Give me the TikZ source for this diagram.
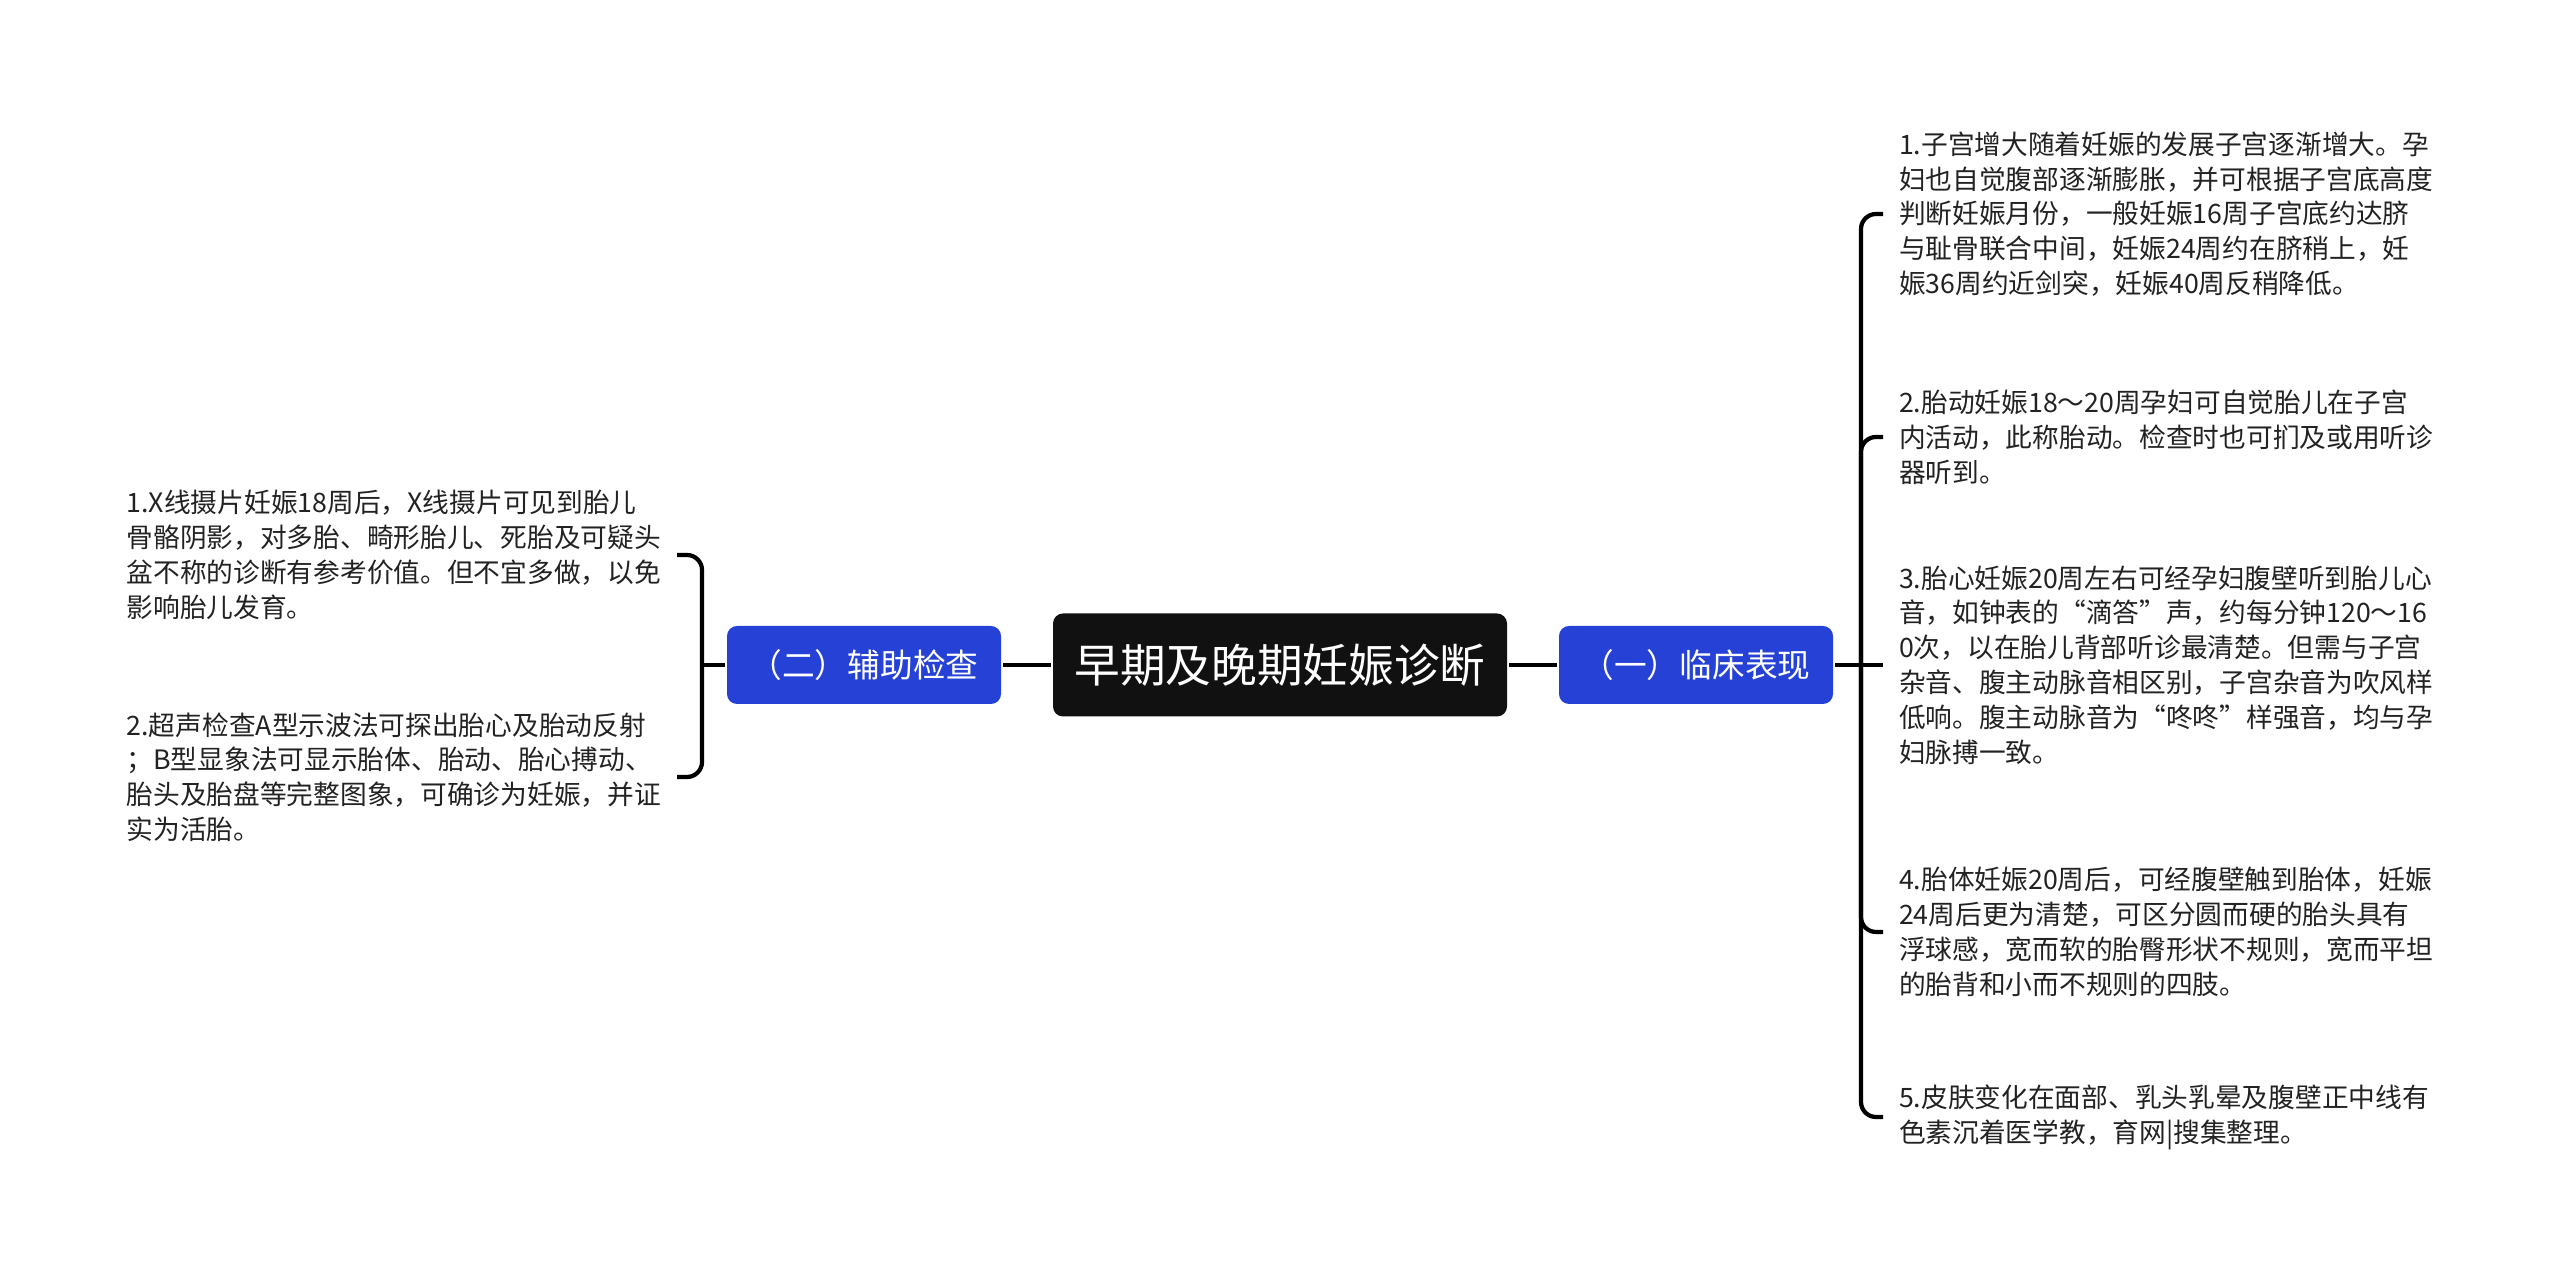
\documentclass[tikz,border=0pt]{standalone}
\usepackage{fontspec}
\setmainfont{Noto Sans CJK SC}
\usepackage{xcolor}
\usepackage{tikz}
\usetikzlibrary{positioning, calc}

\definecolor{topicblue}{RGB}{38,66,214}
\definecolor{rootblack}{RGB}{17,17,17}
\definecolor{leaftext}{RGB}{34,34,34}

\begin{document}
\begin{tikzpicture}[line width=1.2pt]
		
		\tikzstyle{rootbox}=[rectangle, rounded corners=0.1cm, fill=rootblack, text=white, minimum width=4.54cm, minimum height=1.03cm, inner sep=0pt, font=\fontsize{13pt}{15pt}\selectfont]
		\tikzstyle{topicbox}=[rectangle, rounded corners=0.1cm, fill=topicblue, text=white, minimum width=2.74cm, minimum height=0.78cm, inner sep=0pt, font=\fontsize{9.3pt}{11pt}\selectfont]
		\tikzstyle{leafr}=[anchor=west, align=left, inner xsep=0.14cm, inner ysep=0.05cm, text=leaftext, font=\fontsize{7.6pt}{9.9pt}\selectfont]
		\tikzstyle{leafl}=[leafr, anchor=east]
		\tikzstyle{brace}=[rounded corners=0.15cm]
		
		\useasboundingbox (0,0) rectangle (25.6,-12.8);
		
		
		\node (root) at (12.8,-6.65) [rootbox] {早期及晚期妊娠诊断};
		\node (aux) at (8.64,-6.65) [topicbox] {（二）辅助检查};
		\node (clin) at (16.96,-6.65) [topicbox] {（一）临床表现};
		
		\coordinate (lj) at (7.02,-6.65);
		\coordinate (rj) at (18.61,-6.65);
		
		%% right side
		\node (ri1) at (18.83,-2.14) [leafr] {1.子宫增大随着妊娠的发展子宫逐渐增大。孕\\妇也自觉腹部逐渐膨胀，并可根据子宫底高度\\判断妊娠月份，一般妊娠16周子宫底约达脐\\与耻骨联合中间，妊娠24周约在脐稍上，妊\\娠36周约近剑突，妊娠40周反稍降低。};
		\node (ri2) at (18.83,-4.37) [leafr] {2.胎动妊娠18～20周孕妇可自觉胎儿在子宫\\内活动，此称胎动。检查时也可扪及或用听诊\\器听到。};
		\node (ri3) at (18.83,-6.65) [leafr] {3.胎心妊娠20周左右可经孕妇腹壁听到胎儿心\\音，如钟表的“滴答”声，约每分钟120～16\\0次，以在胎儿背部听诊最清楚。但需与子宫\\杂音、腹主动脉音相区别，子宫杂音为吹风样\\低响。腹主动脉音为“咚咚”样强音，均与孕\\妇脉搏一致。};
		\node (ri4) at (18.83,-9.32) [leafr] {4.胎体妊娠20周后，可经腹壁触到胎体，妊娠\\24周后更为清楚，可区分圆而硬的胎头具有\\浮球感，宽而软的胎臀形状不规则，宽而平坦\\的胎背和小而不规则的四肢。};
		\node (ri5) at (18.83,-11.17) [leafr] {5.皮肤变化在面部、乳头乳晕及腹壁正中线有\\色素沉着医学教，育网|搜集整理。};
		
		%% left side
		\node (li1) at (6.77,-5.55) [leafl] {1.X线摄片妊娠18周后，X线摄片可见到胎儿\\骨骼阴影，对多胎、畸形胎儿、死胎及可疑头\\盆不称的诊断有参考价值。但不宜多做，以免\\影响胎儿发育。};
		\node (li2) at (6.77,-7.77) [leafl] {2.超声检查A型示波法可探出胎心及胎动反射\\；B型显象法可显示胎体、胎动、胎心搏动、\\胎头及胎盘等完整图象，可确诊为妊娠，并证\\实为活胎。};
		
		
		\draw (root) -- (aux);
		\draw (root) -- (clin);
		
		\draw (clin) -- (rj);
		\draw (aux) -- (lj);
		
		\draw [brace] (rj) |- (ri1.west);
		\draw [brace] (rj) |- (ri2.west);
		\draw (rj) -- (ri3.west);
		\draw [brace] (rj) |- (ri4.west);
		\draw [brace] (rj) |- (ri5.west);
		
		\draw [brace] (lj) |- (li1.east);
		\draw [brace] (lj) |- (li2.east);
		
\end{tikzpicture}
\end{document}
